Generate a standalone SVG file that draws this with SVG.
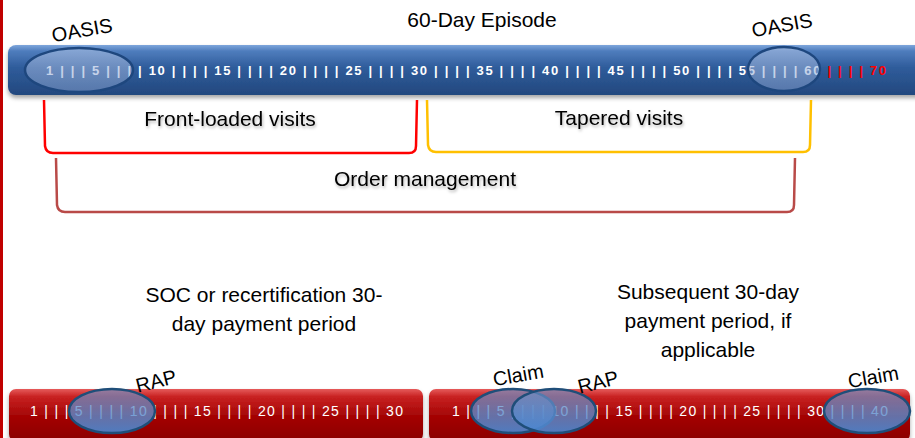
<svg xmlns="http://www.w3.org/2000/svg" width="915" height="438" viewBox="0 0 915 438">
<defs>
<linearGradient id="blueBar" x1="0" y1="0" x2="0" y2="1">
<stop offset="0" stop-color="#7ea6dc"/>
<stop offset="0.12" stop-color="#4f7dbd"/>
<stop offset="0.45" stop-color="#2f5c9b"/>
<stop offset="1" stop-color="#23487e"/>
</linearGradient>
<linearGradient id="redBar" x1="0" y1="0" x2="0" y2="1">
<stop offset="0" stop-color="#e65a5a"/>
<stop offset="0.15" stop-color="#c82222"/>
<stop offset="0.5" stop-color="#a60606"/>
<stop offset="1" stop-color="#8a0000"/>
</linearGradient>
<linearGradient id="ovalTop" x1="0" y1="0" x2="0" y2="1">
<stop offset="0" stop-color="#b4c6e6" stop-opacity="0.55"/>
<stop offset="1" stop-color="#7f9ccd" stop-opacity="0.55"/>
</linearGradient>
<linearGradient id="ovalBot" x1="0" y1="0" x2="0" y2="1">
<stop offset="0" stop-color="#6f8fc4" stop-opacity="0.65"/>
<stop offset="1" stop-color="#4a86d0" stop-opacity="0.92"/>
</linearGradient>
<filter id="shadow" x="-10%" y="-20%" width="120%" height="160%">
<feDropShadow dx="0" dy="3" stdDeviation="2" flood-color="#000" flood-opacity="0.35"/>
</filter>
<filter id="tshadow" x="-5%" y="-20%" width="110%" height="160%">
<feDropShadow dx="1" dy="2" stdDeviation="1.5" flood-color="#000" flood-opacity="0.3"/>
</filter>
</defs>
<style>
.lbl{font-family:"Liberation Sans",Arial,sans-serif;font-size:21px;fill:#000;text-anchor:middle}
.tag{font-family:"Liberation Sans",Arial,sans-serif;font-size:20px;fill:#000;text-anchor:middle}
.ticks{font-family:"Liberation Sans",Arial,sans-serif;font-size:13px;font-weight:bold;fill:#fff}
.ticks2{font-family:"Liberation Sans",Arial,sans-serif;font-size:14px;fill:#fff}
.ovT{fill:url(#ovalTop);stroke:#1e477e;stroke-width:2.5}
.ovB{fill:url(#ovalBot);stroke:#1f4e79;stroke-width:2.5}
.br{fill:none;stroke-width:2.5}
</style>
<rect x="0" y="0" width="915" height="438" fill="#fff"/>
<rect x="0" y="0" width="3" height="438" fill="#c00000"/>

<g id="episode-bar">
<rect x="8" y="45" width="922" height="50" rx="8" fill="url(#blueBar)" filter="url(#shadow)"/>
<text class="ticks" x="46" y="75" textLength="840" lengthAdjust="spacing">1 | | | 5 | | | | 10 | | | | 15 | | | | 20 | | | | 25 | | | | 30 | | | | 35 | | | | 40 | | | | 45 | | | | 50 | | | | 55 | | | | 60<tspan fill="#ff0000"> | | | | 70</tspan></text>
</g>
<text id="episode-title" class="lbl" x="482" y="27">60-Day Episode</text>

<g id="oasis-start">
<ellipse class="ovT" cx="79" cy="70" rx="54" ry="22"/>
<text class="tag" x="82" y="37" transform="rotate(-10 82 30)">OASIS</text>
</g>
<g id="oasis-end">
<ellipse class="ovT" cx="784" cy="69" rx="36" ry="22"/>
<text class="tag" x="782" y="32" transform="rotate(-10 782 25)">OASIS</text>
</g>

<g id="connectors">
<path class="br" stroke="#ff0000" d="M44,100 L45,146 Q46,153 53,153 L409,153 Q416,153 416,146 L417,100"/>
<path class="br" stroke="#ffc000" d="M427,100 L428,145 Q429,152 436,152 L803,152 Q810,152 810,145 L811,100"/>
<path class="br" stroke="#b94a48" d="M56,158 L57,205 Q58,212 65,212 L787,212 Q794,212 794,205 L795,158"/>
</g>

<g id="front-loaded">
<text class="lbl" x="230" y="126" filter="url(#tshadow)">Front-loaded visits</text>
</g>
<g id="tapered">
<text class="lbl" x="619" y="125" filter="url(#tshadow)">Tapered visits</text>
</g>
<g id="order-management">
<text class="lbl" x="425" y="186" filter="url(#tshadow)">Order management</text>
</g>

<g id="period1-label">
<text class="lbl" x="264" y="302">SOC or recertification 30-</text>
<text class="lbl" x="264" y="331">day payment period</text>
</g>
<g id="period2-label">
<text class="lbl" x="708" y="299">Subsequent 30-day</text>
<text class="lbl" x="708" y="328">payment period, if</text>
<text class="lbl" x="708" y="357">applicable</text>
</g>

<g id="period1-bar">
<rect x="9" y="389" width="414" height="52" rx="7" fill="url(#redBar)" filter="url(#shadow)"/>
<text class="ticks2" x="30" y="416" textLength="373" lengthAdjust="spacing">1 | | | 5 | | | | 10 | | | | 15 | | | | 20 | | | | 25 | | | | 30</text>
</g>
<g id="period2-bar">
<rect x="429" y="389" width="481" height="52" rx="7" fill="url(#redBar)" filter="url(#shadow)"/>
<text class="ticks2" x="452" y="416" textLength="436" lengthAdjust="spacing">1 | | | 5 | | | | 10 | | | | 15 | | | | 20 | | | | 25 | | | | 30 | | | | 40</text>
</g>

<g id="rap1">
<ellipse class="ovB" cx="112" cy="411" rx="43" ry="22"/>
<text class="tag" x="156" y="388" transform="rotate(-14 156 381)">RAP</text>
</g>
<g id="claim1">
<ellipse class="ovB" cx="513" cy="411" rx="42" ry="22"/>
<text class="tag" x="518" y="382" font-size="21" transform="rotate(-10 518 374)">Claim</text>
</g>
<g id="rap2">
<ellipse class="ovB" cx="554" cy="411" rx="42" ry="22"/>
<text class="tag" x="598" y="389" transform="rotate(-14 598 382)">RAP</text>
</g>
<g id="claim2">
<ellipse class="ovB" cx="867" cy="411" rx="43" ry="22"/>
<text class="tag" x="873" y="384" font-size="21" transform="rotate(-10 873 376)">Claim</text>
</g>
</svg>
